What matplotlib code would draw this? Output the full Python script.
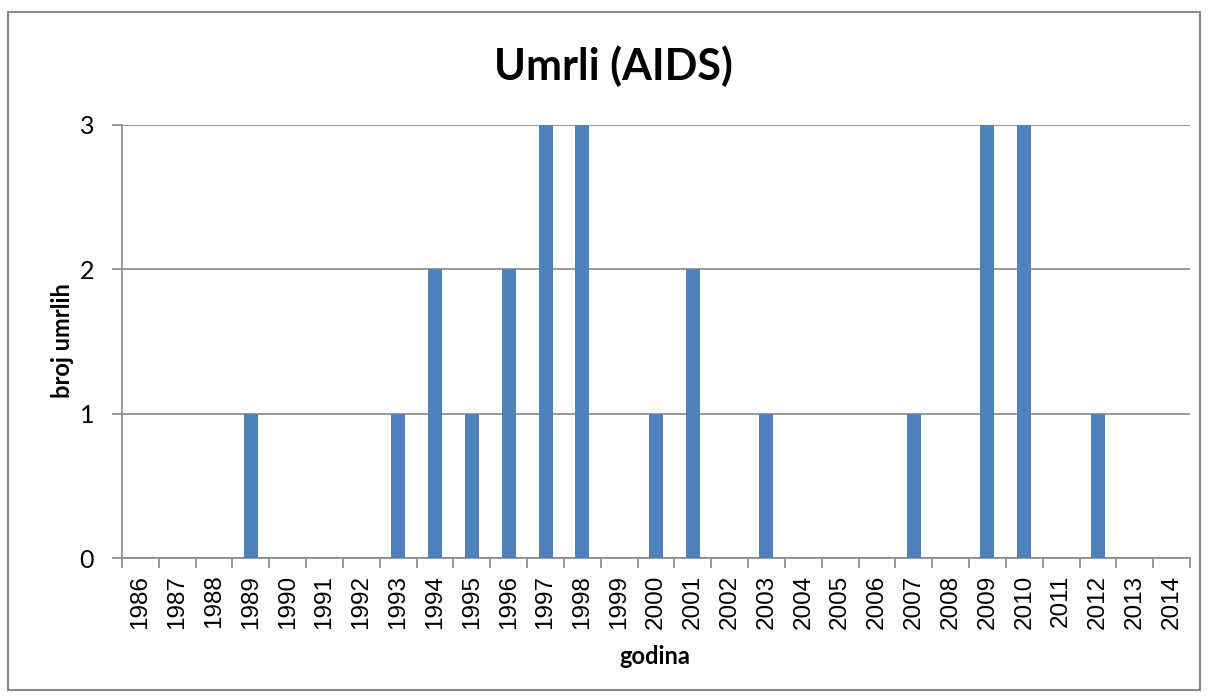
import numpy as np
import matplotlib.pyplot as plt
from matplotlib.patches import Rectangle

# Data
godine = [str(g) for g in range(1986, 2015)]
umrli = [0, 0, 0, 1, 0, 0, 0, 1, 2, 1, 2, 3, 3, 0, 1, 2, 0, 1, 0, 0, 0, 1, 0, 3, 3, 0, 1, 0, 0]

bar_color = "#4F81BD"
grid_color = "#888888"

fig = plt.figure(figsize=(12.08, 6.98), dpi=100)
ax = fig.add_axes([122/1208, 1 - 558/698, (1190-122)/1208, (558-125)/698])

x = np.arange(len(godine))
ax.bar(x, umrli, width=0.38, color=bar_color, zorder=3)

ax.set_xlim(-0.5, len(godine) - 0.5)
ax.set_ylim(0, 3)
ax.set_yticks([0, 1, 2, 3])
ax.set_yticklabels(["0", "1", "2", "3"], family="Lato", fontsize=18)
ax.yaxis.grid(True, color=grid_color, linewidth=1.2, zorder=0)

ax.set_xticks(x)
ax.set_xticklabels(godine, rotation=90, family="Liberation Sans", fontsize=17.5)
ax.set_xticks(np.arange(-0.5, len(godine)), minor=True)
ax.tick_params(axis="x", which="major", length=0, pad=12)
ax.tick_params(axis="x", which="minor", length=7, width=1.2, color=grid_color, direction="out")
ax.tick_params(axis="y", length=7, width=1.2, color=grid_color, direction="out", pad=13)

for s in ["top", "right"]:
    ax.spines[s].set_visible(False)
for s in ["left", "bottom"]:
    ax.spines[s].set_color(grid_color)
    ax.spines[s].set_linewidth(1.2)

fig.text(613/1208, 1 - 66/698, "Umrli (AIDS)", ha="center", va="center",
         family="Lato", fontweight="bold", fontsize=31)
fig.text(655/1208, 1 - 656/698, "godina", ha="center", va="center",
         family="Lato", fontweight="bold", fontsize=17)
fig.text(62/1208, 1 - 341/698, "broj umrlih", ha="center", va="center", rotation=90,
         family="Lato", fontweight="bold", fontsize=17)

fig.patches.append(Rectangle((8/1208, 1 - 690/698), 1192/1208, 678/698,
                             transform=fig.transFigure, fill=False,
                             edgecolor=grid_color, linewidth=1.5))

fig.savefig("out.png", dpi=100)
